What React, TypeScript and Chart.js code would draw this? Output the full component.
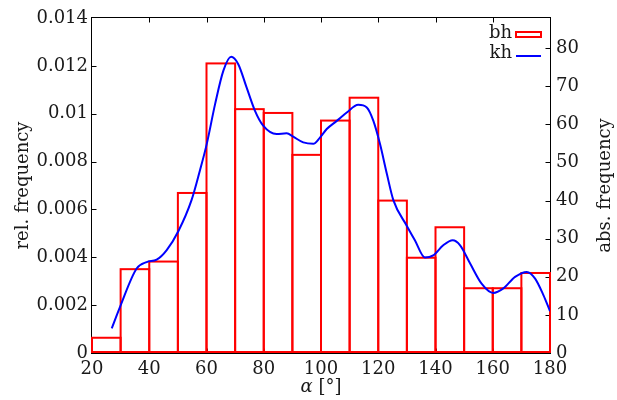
import React, { useEffect, useRef } from "react";
import { Chart, registerables } from "chart.js";

Chart.register(...registerables);

// ---- data ----
const binStarts = [20, 30, 40, 50, 60, 70, 80, 90, 100, 110, 120, 130, 140, 150, 160, 170];
const binCounts = [4, 22, 24, 42, 76, 64, 63, 52, 61, 67, 40, 25, 33, 17, 17, 21];
const binWidth = 10;

const kdeX = [26.9, 29.8, 35.6, 39.1, 42.6, 46.1, 50.2, 54.8, 57.7, 60.1, 63.0, 65.9, 68.6, 71.1, 74.0, 76.9, 79.8, 84.5, 88.0, 90.3, 93.8, 97.3, 99.7, 102.0, 105.5, 109.0, 113.0, 116.0, 118.3, 120.6, 123.0, 125.3, 129.9, 132.8, 136.3, 139.2, 142.7, 146.0, 148.6, 152.1, 156.1, 160.2, 163.7, 167.8, 171.9, 174.8, 177.7, 180.0];
const kdeY = [0.00103, 0.00193, 0.00353, 0.0038, 0.0039, 0.0043, 0.0051, 0.0064, 0.00763, 0.00874, 0.0104, 0.0118, 0.01238, 0.01207, 0.0111, 0.01013, 0.0095, 0.00915, 0.00918, 0.00904, 0.0088, 0.00874, 0.00901, 0.00936, 0.0097, 0.01005, 0.01037, 0.01026, 0.0097, 0.00874, 0.00749, 0.00638, 0.00533, 0.00471, 0.00399, 0.00408, 0.0045, 0.00471, 0.0045, 0.00374, 0.0029, 0.00251, 0.0027, 0.00318, 0.00339, 0.00311, 0.00242, 0.00175];

const xMin = 20;
const xMax = 180;
const xStep = 20;
const relMax = 0.014;
const relStep = 0.002;
const absStep = 10;

const legendLabels = ["bh", "kh"];
const yTitle = "rel. frequency";
const y2Title = "abs. frequency";
const xTitleSym = "α";
const xTitleUnit = " [°]";

const FONT = "'DejaVu Serif', serif";
const TEXT = "#1a1a1a";
const BAR_COLOR = "#ff0000";

export default function App() {
  const ref = useRef<HTMLCanvasElement | null>(null);

  useEffect(() => {
    const canvas = ref.current;
    if (!canvas) return;
    const total = binCounts.reduce((a, b) => a + b, 0);
    const norm = total * binWidth;
    const barData = binStarts.map((s, i) => ({ x: s + binWidth / 2, y: binCounts[i] / norm }));
    const lineData = kdeX.map((x, i) => ({ x, y: kdeY[i] }));

    const framePlugin = {
      id: "frame",
      beforeDatasetsDraw(chart: any) {
        const { ctx, chartArea: a, scales } = chart;
        ctx.save();
        ctx.strokeStyle = "#000";
        ctx.lineWidth = 1;
        const L = a.left - 0.5, R = a.right + 0.5, T = a.top - 0.5, B = a.bottom + 0.5;
        ctx.strokeRect(L, T, R - L, B - T);
        const tl = 5;
        ctx.beginPath();
        scales.y.ticks.forEach((t: any) => {
          const p = Math.round(scales.y.getPixelForValue(t.value)) + 0.5;
          if (t.value <= 0 || t.value >= relMax - 1e-9) return;
          ctx.moveTo(L, p); ctx.lineTo(L + tl, p);
        });
        scales.y2.ticks.forEach((t: any) => {
          const p = Math.round(scales.y2.getPixelForValue(t.value)) + 0.5;
          if (t.value <= 0) return;
          ctx.moveTo(R, p); ctx.lineTo(R - tl, p);
        });
        scales.x.ticks.forEach((t: any) => {
          if (t.value <= xMin || t.value >= xMax) return;
          const p = Math.round(scales.x.getPixelForValue(t.value)) + 0.5;
          ctx.moveTo(p, T); ctx.lineTo(p, T + tl);
          ctx.moveTo(p, B); ctx.lineTo(p, B - tl);
        });
        ctx.stroke();
        ctx.restore();
      },
      afterDatasetDraw(chart: any, args: any) {
        const meta = chart.getDatasetMeta(args.index);
        if (meta.type !== "bar") return;
        const { ctx } = chart;
        ctx.save();
        ctx.strokeStyle = BAR_COLOR;
        ctx.lineWidth = 2;
        ctx.lineJoin = "miter";
        meta.data.forEach((el: any) => {
          const { x, y, base, width } = el.getProps(["x", "y", "base", "width"], true);
          const l = x - width / 2;
          ctx.strokeRect(l, y, width, base - y - 1);
        });
        ctx.restore();
      },
      afterDraw(chart: any) {
        const { ctx, chartArea: a } = chart;
        ctx.save();
        ctx.fillStyle = TEXT;
        ctx.font = `18px ${FONT}`;
        ctx.textAlign = "center";
        ctx.textBaseline = "alphabetic";
        const cy = (a.top + a.bottom) / 2;
        // left title
        ctx.save();
        ctx.translate(28, cy);
        ctx.rotate(-Math.PI / 2);
        ctx.fillText(yTitle, 0, 0);
        ctx.restore();
        // right title
        ctx.save();
        ctx.translate(610, cy);
        ctx.rotate(-Math.PI / 2);
        ctx.fillText(y2Title, 0, 0);
        ctx.restore();
        // x title
        const cx = (a.left + a.right) / 2;
        ctx.font = `italic 18px ${FONT}`;
        const w1 = ctx.measureText(xTitleSym).width;
        ctx.font = `18px ${FONT}`;
        const w2 = ctx.measureText(xTitleUnit).width;
        const x0 = cx - (w1 + w2) / 2;
        ctx.textAlign = "left";
        ctx.font = `italic 18px ${FONT}`;
        ctx.fillText(xTitleSym, x0, 392);
        ctx.font = `18px ${FONT}`;
        ctx.fillText(xTitleUnit, x0 + w1, 392);
        // legend
        const textRight = a.right - 38;
        const symL = a.right - 34;
        const symR = a.right - 9;
        ctx.textAlign = "right";
        ctx.fillText(legendLabels[0], textRight, 38);
        ctx.fillText(legendLabels[1], textRight, 58);
        ctx.strokeStyle = BAR_COLOR;
        ctx.lineWidth = 2;
        ctx.strokeRect(symL, 32, symR - symL, 5);
        ctx.strokeStyle = "#0000ff";
        ctx.beginPath();
        ctx.moveTo(symL, 56);
        ctx.lineTo(symR, 56);
        ctx.stroke();
        ctx.restore();
      },
    };

    const chart = new Chart(canvas, {
      type: "bar",
      data: {
        datasets: [
          {
            type: "line",
            label: legendLabels[1],
            data: lineData,
            borderColor: "#0000ff",
            borderWidth: 2,
            pointRadius: 0,
            cubicInterpolationMode: "monotone",
            fill: false,
            order: 0,
            yAxisID: "y",
          } as any,
          {
            type: "bar",
            label: legendLabels[0],
            data: barData,
            backgroundColor: "rgba(0,0,0,0)",
            borderColor: BAR_COLOR,
            borderWidth: 0,
            inflateAmount: 0,
            barPercentage: 1,
            categoryPercentage: 1,
            grouped: false,
            order: 1,
            yAxisID: "y",
          } as any,
        ],
      },
      options: {
        animation: false,
        responsive: false,
        devicePixelRatio: 1,
        layout: { padding: { top: 18, left: 0, right: 0, bottom: 0 } },
        plugins: { legend: { display: false }, tooltip: { enabled: false } },
        scales: {
          x: {
            type: "linear",
            min: xMin,
            max: xMax,
            offset: false,
            grid: { display: false, drawTicks: false, offset: false },
            border: { display: false },
            ticks: { stepSize: xStep, padding: 6, color: TEXT, font: { family: FONT, size: 18 }, maxRotation: 0 },
            afterFit: (s: any) => { s.height = 47; },
          },
          y: {
            type: "linear",
            position: "left",
            min: 0,
            max: relMax,
            grid: { display: false, drawTicks: false },
            border: { display: false },
            ticks: {
              stepSize: relStep,
              padding: 4,
              color: TEXT,
              font: { family: FONT, size: 18 },
              callback: (v: any) => String(Number(Number(v).toFixed(3))),
            },
            afterFit: (s: any) => { s.width = 92; },
          },
          y2: {
            type: "linear",
            position: "right",
            min: 0,
            max: relMax * binCounts.reduce((a, b) => a + b, 0) * binWidth,
            grid: { display: false, drawTicks: false },
            border: { display: false },
            ticks: {
              stepSize: absStep,
              includeBounds: false,
              padding: 6,
              color: TEXT,
              font: { family: FONT, size: 18 },
            },
            afterFit: (s: any) => { s.width = 67; },
          },
        },
      } as any,
      plugins: [framePlugin],
    });
    return () => chart.destroy();
  }, []);

  return (
    <div style={{ position: "fixed", left: 0, top: 0, width: 617, height: 400, background: "#fff" }}>
      <canvas ref={ref} width={617} height={400} />
    </div>
  );
}
